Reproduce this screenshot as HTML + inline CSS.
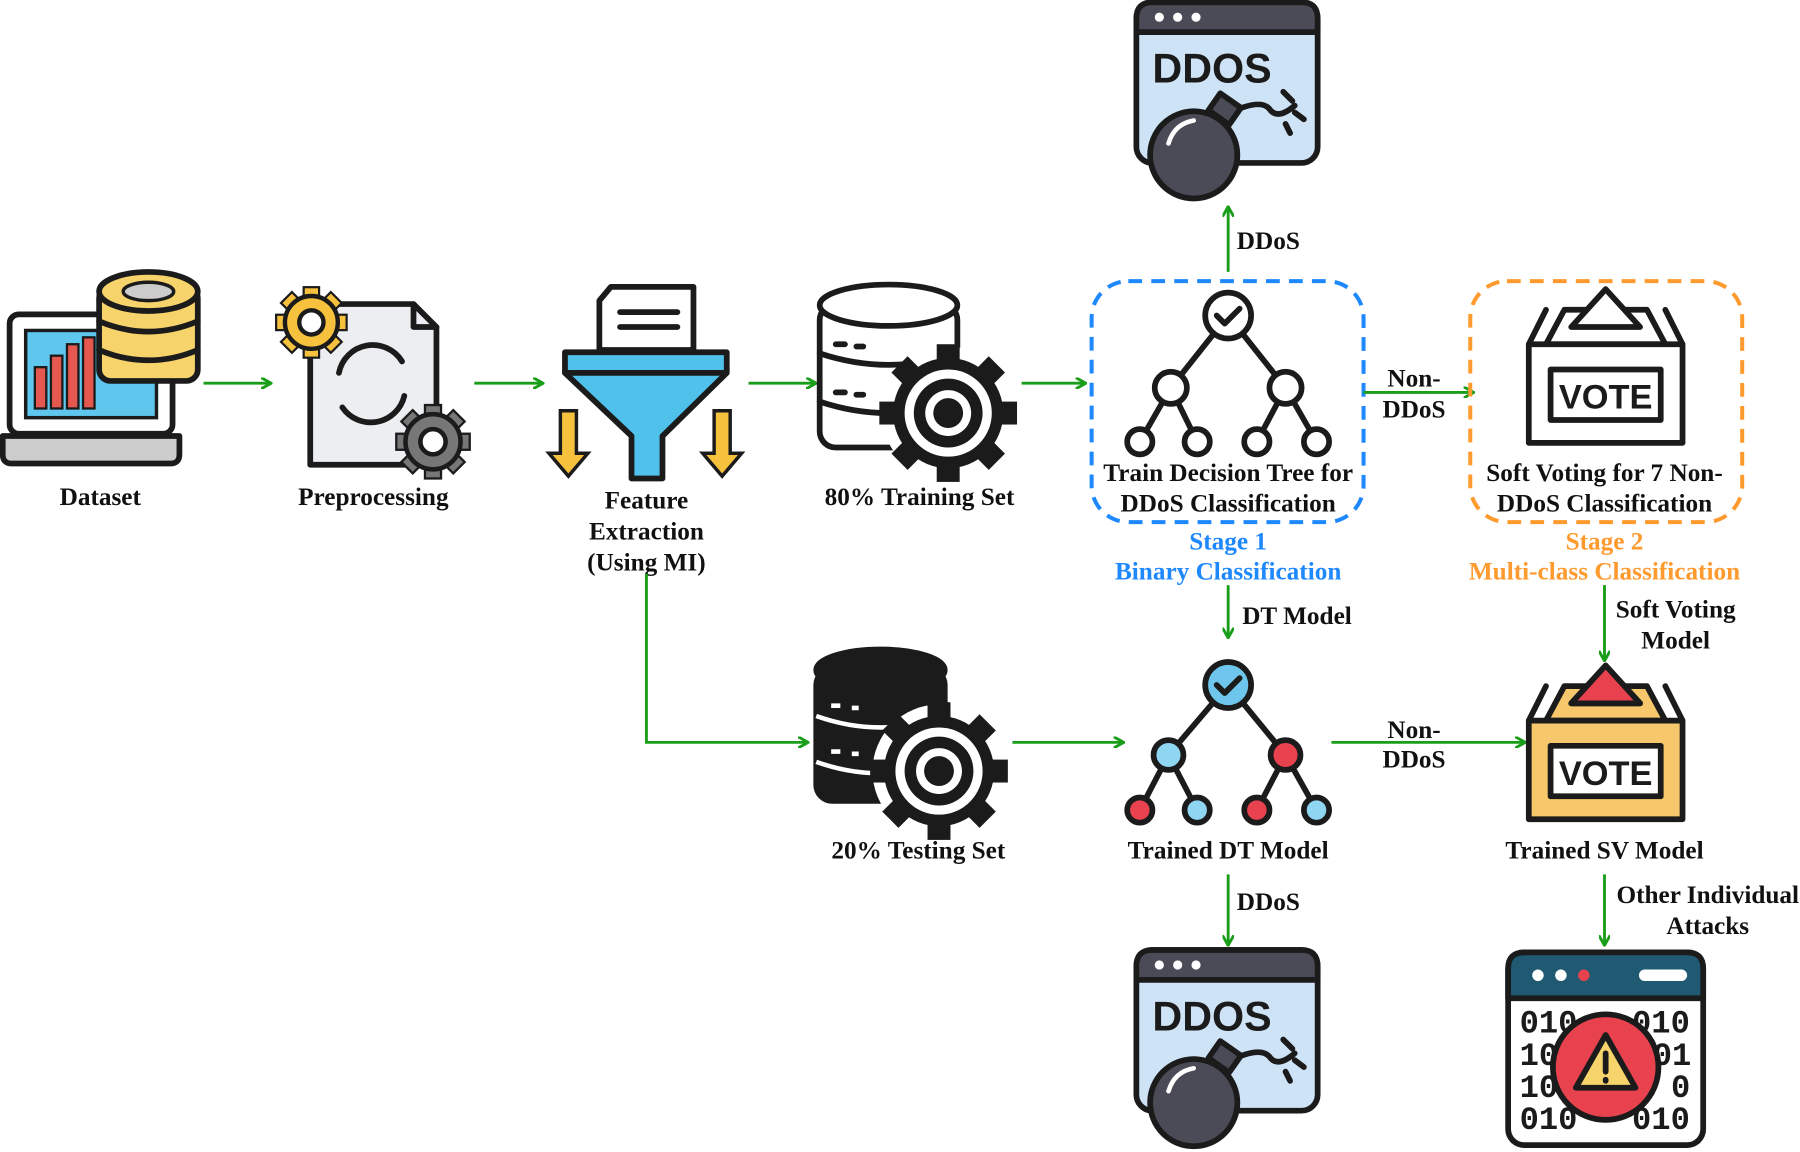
<!DOCTYPE html>
<html><head><meta charset="utf-8"><style>
html,body{margin:0;padding:0;background:#fff;}
svg{display:block;}
.t{font-family:"Liberation Serif",serif;font-weight:bold;font-size:22px;fill:#111;text-anchor:middle;}
.a{stroke:#1a9e1a;stroke-width:2.5;fill:none;marker-end:url(#ah);}
.k{stroke:#1b1b1b;stroke-width:5;stroke-linejoin:round;stroke-linecap:round;}
</style></head><body>
<svg width="1800" height="1152" viewBox="0 0 1568 1004" xmlns="http://www.w3.org/2000/svg">
<defs>
<marker id="ah" markerWidth="10" markerHeight="10" refX="8" refY="5" orient="auto" markerUnits="userSpaceOnUse"><path d="M0,0 L9,5 L0,10" fill="none" stroke="#1a9e1a" stroke-width="2.5"/></marker>
<g id="gear">
<circle r="48" fill="#1b1b1b"/>
<g fill="#1b1b1b"><rect x="-10" y="-60" width="20" height="120"/><rect x="-10" y="-60" width="20" height="120" transform="rotate(45)"/><rect x="-10" y="-60" width="20" height="120" transform="rotate(90)"/><rect x="-10" y="-60" width="20" height="120" transform="rotate(135)"/></g>
<circle r="38" fill="#fff"/><circle r="30" fill="#1b1b1b"/><circle r="20" fill="#fff"/><circle r="13" fill="#1b1b1b"/>
</g>
<g id="sgear">
<g stroke="#1b1b1b" stroke-width="8"><rect x="-12" y="-62" width="24" height="124"/><rect x="-12" y="-62" width="24" height="124" transform="rotate(45)"/><rect x="-12" y="-62" width="24" height="124" transform="rotate(90)"/><rect x="-12" y="-62" width="24" height="124" transform="rotate(135)"/></g>
<g><rect x="-12" y="-62" width="24" height="124"/><rect x="-12" y="-62" width="24" height="124" transform="rotate(45)"/><rect x="-12" y="-62" width="24" height="124" transform="rotate(90)"/><rect x="-12" y="-62" width="24" height="124" transform="rotate(135)"/></g>
<circle r="48" stroke="#1b1b1b" stroke-width="8"/>
<circle r="22" fill="#fff" stroke="#1b1b1b" stroke-width="8"/>
</g>
<g id="ddos">
<rect x="2" y="2" width="158" height="140" rx="14" fill="#cfe3f7" class="k"/>
<path d="M2,28 V16 Q2,2 16,2 H146 Q160,2 160,16 V28 Z" fill="#4b4b57" class="k"/>
<circle cx="22" cy="15" r="4" fill="#fff"/><circle cx="38" cy="15" r="4" fill="#fff"/><circle cx="54" cy="15" r="4" fill="#fff"/>
<text x="16" y="72" font-family="Liberation Sans,sans-serif" font-weight="bold" font-size="36" fill="#1b1b1b">DDOS</text>
<path d="M80,100 Q110,85 118,95 Q125,105 140,92" fill="none" class="k" stroke-width="4"/>
<path d="M130,80 l8,8 M140,98 l8,6 M132,108 l4,8" class="k" stroke-width="4"/>
<rect x="68" y="86" width="22" height="18" fill="#4b4b57" class="k" transform="rotate(35 79 95)"/>
<circle cx="52" cy="135" r="38" fill="#4b4b57" class="k"/>
<path d="M30,125 Q35,108 52,105" fill="none" stroke="#fff" stroke-width="4" stroke-linecap="round"/>
</g>
<g id="vote">
<path d="M-52,-50 L-36,-80 L36,-80 L52,-50 Z" class="k"/>
<path d="M-30,-65 L0,-98 L30,-65 Z" class="k"/>
<rect x="-67" y="-50" width="134" height="86" class="k"/>
<path d="M-67,-50 L-52,-80 M67,-50 L52,-80" class="k"/>
<rect x="-48" y="-28" width="96" height="44" fill="#fff" class="k"/>
<text x="0" y="6" text-anchor="middle" font-family="Liberation Sans,sans-serif" font-weight="bold" font-size="30" fill="#1b1b1b">VOTE</text>
</g>
</defs>

<!-- Dataset -->
<rect x="8" y="274" width="142" height="104" rx="8" fill="#fff" class="k"/>
<rect x="22" y="288" width="114" height="76" fill="#5fc6ee" stroke="#1b1b1b" stroke-width="3"/>
<rect x="30" y="320" width="10" height="36" fill="#e5584f" stroke="#1b1b1b" stroke-width="2"/>
<rect x="44" y="310" width="10" height="46" fill="#e5584f" stroke="#1b1b1b" stroke-width="2"/>
<rect x="58" y="300" width="10" height="56" fill="#e5584f" stroke="#1b1b1b" stroke-width="2"/>
<rect x="72" y="294" width="10" height="62" fill="#e5584f" stroke="#1b1b1b" stroke-width="2"/>
<path d="M2,380 H156 V396 Q156,404 148,404 H10 Q2,404 2,396 Z" fill="#ccc" class="k"/>
<rect x="86" y="250" width="86" height="82" rx="10" fill="#f6d36b" class="k"/>
<path d="M86,280 Q129,298 172,280 M86,305 Q129,323 172,305" fill="none" class="k"/>
<ellipse cx="129" cy="254" rx="43" ry="17" fill="#f6d36b" class="k"/>
<ellipse cx="129" cy="254" rx="22" ry="8" fill="#ccc" stroke="#1b1b1b" stroke-width="3"/>
<text class="t" x="87" y="440">Dataset</text>
<line class="a" x1="177" y1="334" x2="235" y2="334"/>

<!-- Preprocessing -->
<path d="M270,265 H360 L380,285 V405 H270 Z" fill="#eceef1" class="k"/>
<path d="M360,265 V285 H380" fill="none" class="k"/>
<path d="M295,325 A30,30 0 0 1 350,315 M352,345 A30,30 0 0 1 298,355" fill="none" class="k"/>
<g transform="translate(271,281) scale(0.48)" fill="#f6c23e"><use href="#sgear"/></g>
<g transform="translate(377,385) scale(0.5)" fill="#777"><use href="#sgear"/></g>
<text class="t" x="325" y="440">Preprocessing</text>
<line class="a" x1="413" y1="334" x2="472" y2="334"/>

<!-- Funnel -->
<path d="M522,262 L532,250 H604 V305 H522 Z" fill="#fff" class="k"/>
<path d="M540,272 H590 M540,285 H590" class="k" stroke-width="3"/>
<path d="M492,307 H633 V325 L577,380 V417 H550 V380 L492,325 Z" fill="#4fc1ea" class="k"/>
<path d="M492,325 H633" class="k"/>
<path d="M488,358 H502 V395 H512 L495,415 L478,395 H488 Z" fill="#f6c23e" stroke="#1b1b1b" stroke-width="3"/>
<path d="M622,358 H636 V395 H646 L629,415 L612,395 H622 Z" fill="#f6c23e" stroke="#1b1b1b" stroke-width="3"/>
<text class="t" x="563" y="443">Feature</text>
<text class="t" x="563" y="470">Extraction</text>
<text class="t" x="563" y="497">(Using MI)</text>
<line class="a" x1="652" y1="334" x2="710" y2="334"/>

<!-- Training DB -->
<rect x="714" y="265" width="120" height="125" rx="14" fill="#fff" class="k"/>
<path d="M714,308 Q774,328 834,308 M714,350 Q774,370 834,350" fill="none" class="k"/>
<ellipse cx="774" cy="266" rx="60" ry="18" fill="#fff" class="k"/>
<path d="M728,300 h8 M746,302 h6 M728,342 h8 M746,344 h6" class="k"/>
<g transform="translate(826,360)"><circle r="58" fill="#fff"/><use href="#gear"/></g>
<text class="t" x="801" y="440">80% Training Set</text>
<line class="a" x1="890" y1="334" x2="945" y2="334"/>

<!-- Stage 1 box -->
<rect x="951" y="245" width="237" height="210" rx="32" fill="none" stroke="#1e88ff" stroke-width="3.5" stroke-dasharray="12,8"/>
<g fill="#fff" class="k" stroke-width="4.5">
<path d="M1070,275 L1020,338 M1070,275 L1120,338 M1020,338 L993,385 M1020,338 L1043,385 M1120,338 L1095,385 M1120,338 L1147,385"/>
<circle cx="1070" cy="275" r="20"/><circle cx="1020" cy="338" r="14"/><circle cx="1120" cy="338" r="14"/>
<circle cx="993" cy="385" r="11"/><circle cx="1043" cy="385" r="11"/><circle cx="1095" cy="385" r="11"/><circle cx="1147" cy="385" r="11"/>
</g>
<path d="M1060,275 l7,7 l13,-13" fill="none" class="k" stroke-width="4"/>
<text class="t" x="1070" y="419">Train Decision Tree for</text>
<text class="t" x="1070" y="446">DDoS Classification</text>
<text class="t" x="1070" y="479" style="fill:#1e88ff">Stage 1</text>
<text class="t" x="1070" y="505" style="fill:#1e88ff">Binary Classification</text>

<use href="#ddos" x="988" y="0"/>
<line class="a" x1="1070" y1="237" x2="1070" y2="181"/>
<text class="t" x="1105" y="217">DDoS</text>

<line class="a" x1="1188" y1="342" x2="1283" y2="342"/>
<text class="t" x="1232" y="337">Non-</text>
<text class="t" x="1232" y="364">DDoS</text>

<!-- Stage 2 box -->
<rect x="1281" y="245" width="237" height="210" rx="32" fill="none" stroke="#ff9a2e" stroke-width="3.5" stroke-dasharray="12,8"/>
<g transform="translate(1399,350)" fill="#fff"><use href="#vote"/></g>
<text class="t" x="1398" y="419">Soft Voting for 7 Non-</text>
<text class="t" x="1398" y="446">DDoS Classification</text>
<text class="t" x="1398" y="479" style="fill:#ff9a2e">Stage 2</text>
<text class="t" x="1398" y="505" style="fill:#ff9a2e">Multi-class Classification</text>

<line class="a" x1="1070" y1="510" x2="1070" y2="555"/>
<text class="t" x="1130" y="544">DT Model</text>
<line class="a" x1="1398" y1="510" x2="1398" y2="575"/>
<text class="t" x="1460" y="538">Soft Voting</text>
<text class="t" x="1460" y="565">Model</text>

<!-- Feature to test -->
<path class="a" d="M563,500 V647 H703"/>

<!-- Testing DB -->
<rect x="711" y="583" width="112" height="115" rx="14" fill="#1b1b1b" class="k"/>
<ellipse cx="767" cy="584" rx="56" ry="18" fill="#1b1b1b" class="k"/>
<path d="M711,624 Q767,644 823,624 M711,664 Q767,684 823,664" fill="none" stroke="#fff" stroke-width="4"/>
<path d="M724,615 h8 M742,617 h6 M724,655 h8 M742,657 h6" stroke="#fff" stroke-width="4"/>
<g transform="translate(818,672)"><circle r="58" fill="#fff"/><use href="#gear"/></g>
<text class="t" x="800" y="748">20% Testing Set</text>
<line class="a" x1="882" y1="647" x2="978" y2="647"/>

<!-- Trained tree -->
<g class="k" stroke-width="4.5">
<path d="M1070,597 L1018,658 M1070,597 L1120,658 M1018,658 L993,706 M1018,658 L1043,706 M1120,658 L1095,706 M1120,658 L1147,706" fill="none"/>
<circle cx="1070" cy="597" r="20" fill="#6ec6ec"/><circle cx="1018" cy="658" r="13" fill="#8fd6f2"/><circle cx="1120" cy="658" r="13" fill="#e8424f"/>
<circle cx="993" cy="706" r="11" fill="#e8424f"/><circle cx="1043" cy="706" r="11" fill="#8fd6f2"/><circle cx="1095" cy="706" r="11" fill="#e8424f"/><circle cx="1147" cy="706" r="11" fill="#8fd6f2"/>
</g>
<path d="M1060,597 l7,7 l13,-13" fill="none" class="k" stroke-width="4"/>
<text class="t" x="1070" y="748">Trained DT Model</text>

<line class="a" x1="1160" y1="647" x2="1328" y2="647"/>
<text class="t" x="1232" y="643">Non-</text>
<text class="t" x="1232" y="669">DDoS</text>

<g transform="translate(1399,678)" fill="#f6c86b"><use href="#vote"/></g>
<path d="M1369,613 L1399,580 L1429,613 Z" fill="#e8424f" class="k"/>
<text class="t" x="1398" y="748">Trained SV Model</text>

<line class="a" x1="1070" y1="762" x2="1070" y2="823"/>
<text class="t" x="1105" y="793">DDoS</text>
<use href="#ddos" x="988" y="826"/>

<line class="a" x1="1398" y1="762" x2="1398" y2="823"/>
<text class="t" x="1488" y="787">Other Individual</text>
<text class="t" x="1488" y="814">Attacks</text>

<!-- Warning window -->
<rect x="1314" y="830" width="170" height="168" rx="14" fill="#fff" class="k"/>
<path d="M1314,870 V844 Q1314,830 1328,830 H1470 Q1484,830 1484,844 V870 Z" fill="#1f5a72" class="k"/>
<circle cx="1340" cy="850" r="5" fill="#fff"/><circle cx="1360" cy="850" r="5" fill="#fff"/><circle cx="1380" cy="850" r="5" fill="#e8424f"/>
<rect x="1428" y="845" width="42" height="10" rx="5" fill="#fff"/>
<g font-family="Liberation Mono,monospace" font-weight="bold" font-size="28" fill="#1b1b1b">
<text x="1324" y="900">010</text><text x="1422" y="900">010</text>
<text x="1324" y="928">10</text><text x="1440" y="928">01</text>
<text x="1324" y="956">10</text><text x="1456" y="956">0</text>
<text x="1324" y="984">010</text><text x="1422" y="984">010</text>
</g>
<circle cx="1399" cy="930" r="46" fill="#e8424f" class="k"/>
<path d="M1399,902 L1425,948 H1373 Z" fill="#f6d36b" class="k" stroke-width="4"/>
<path d="M1399,918 V934 M1399,941 V942" class="k" stroke-width="4"/>
</svg>
</body></html>
